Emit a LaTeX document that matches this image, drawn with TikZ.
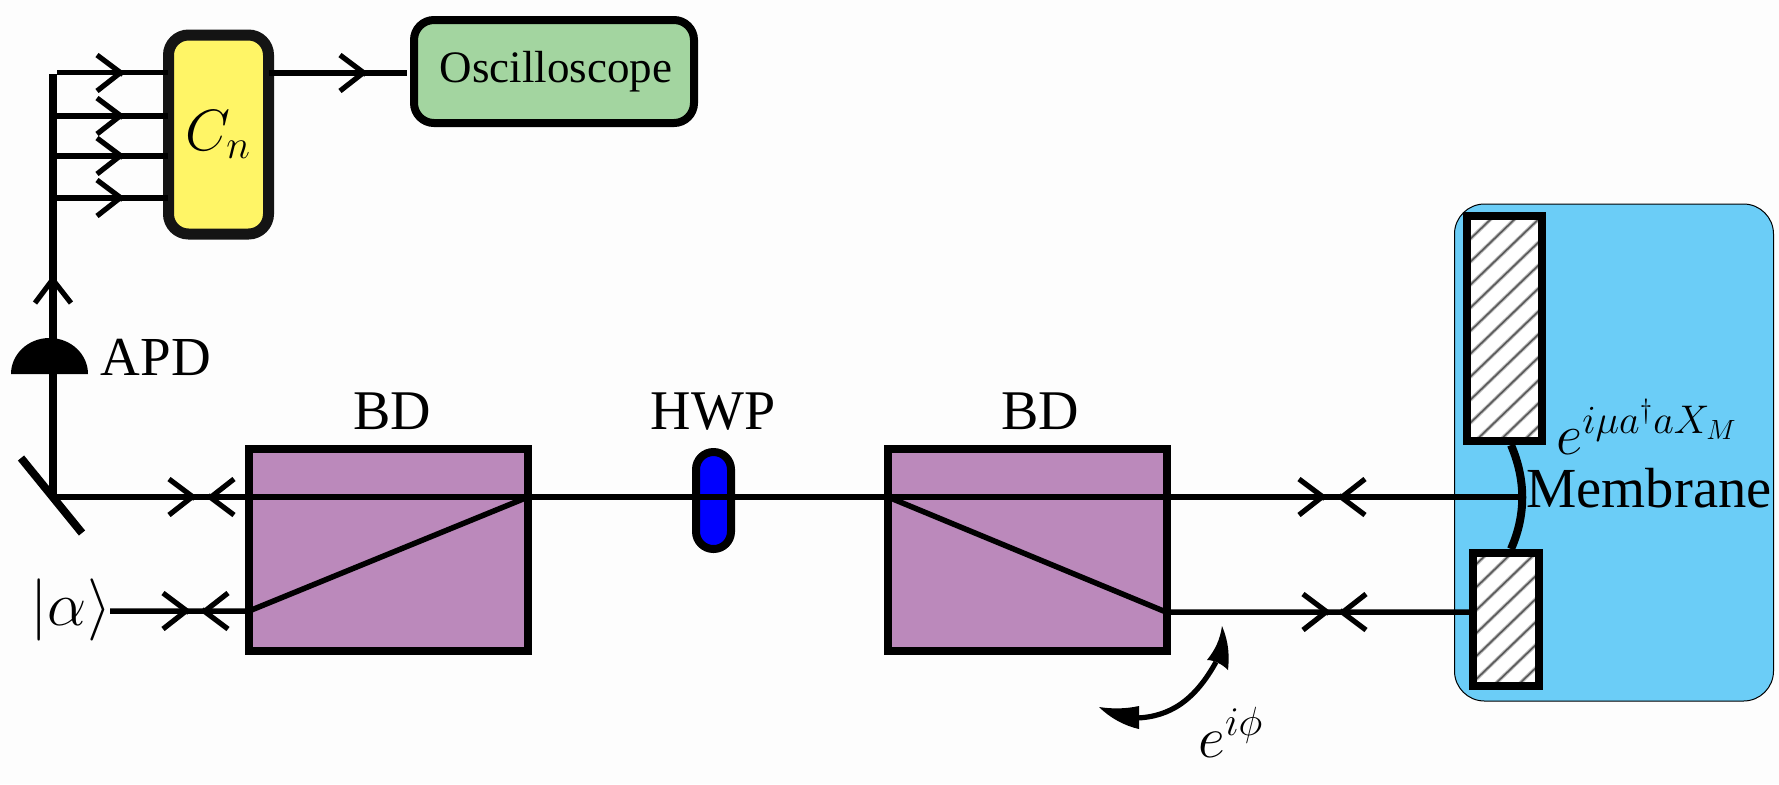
\documentclass[tikz,border=0pt]{standalone}
\usepackage{fontspec}
\setmainfont{Liberation Serif}
\definecolor{bgc}{HTML}{FDFDFD}
\definecolor{yellowc}{HTML}{FFF566}
\definecolor{greenc}{HTML}{A3D5A0}
\definecolor{purplec}{HTML}{BB89BB}
\definecolor{bluec}{HTML}{6BCDF7}
\definecolor{hwpc}{HTML}{0000FF}
\definecolor{edgec}{HTML}{141414}
\definecolor{hatchc}{HTML}{5A5A5A}
\definecolor{hatchs}{HTML}{BEBEBE}
\newcommand{\pxfont}[1]{\fontsize{#1}{#1}\selectfont}
\newcommand{\bigmath}[2]{\scalebox{#1}{\pxfont{26pt}$#2$}}
\tikzset{
  x=0.5pt,y=-0.5pt,
  boxbase/.style={draw=black,inner sep=0pt,outer sep=0pt,text=black},
  corrbox/.style={boxbase,draw=edgec,fill=yellowc,line width=5.5pt,rounded corners=10pt,minimum width=50pt,minimum height=99.5pt},
  scopebox/.style={boxbase,fill=greenc,line width=4pt,rounded corners=10pt,minimum width=140pt,minimum height=51.5pt},
  bdbox/.style={boxbase,fill=purplec,line width=4pt,minimum width=139.5pt,minimum height=101pt},
  hwpbox/.style={boxbase,fill=hwpc,line width=4pt,rounded corners=8.7pt,minimum width=17.5pt,minimum height=48.5pt},
  wallbox/.style={boxbase,fill=white,line width=4pt},
  beam/.style={line width=2.75pt,black},
  txt/.style={inner sep=0pt,outer sep=0pt,anchor=base,text=black},
  chevron/.pic={\draw[line width=2.6pt,black] (-26,-18) -- (0,1.5) (-26,18) -- (-3,0);},
}
\begin{document}
\begin{tikzpicture}
\useasboundingbox (0,0) rectangle (1779,784);
\fill[bgc] (0,0) rectangle (1779,784);

% membrane region
\node[boxbase,fill=bluec,line width=0.5pt,rounded corners=15pt,minimum width=159.5pt,minimum height=248.5pt] (region) at (1614,452.5) {};

% walls with hatching
\node[wallbox,minimum width=37.5pt,minimum height=112.5pt] (wallA) at (1504.5,328.5) {};
\begin{scope}
\clip (wallA.south west) rectangle (wallA.north east);
\foreach \c in {0,23,...,322}{
  \draw[hatchs,line width=1.8pt] (1440,222+\c) -- ++(130,-125);
  \draw[hatchc,line width=0.8pt] (1440,222+\c) -- ++(130,-125);
}
\end{scope}
\draw[line width=4pt,black] (wallA.south west) rectangle (wallA.north east);

\node[wallbox,minimum width=33pt,minimum height=66.5pt] (wallB) at (1506,619.5) {};
\begin{scope}
\clip (wallB.south west) rectangle (wallB.north east);
\foreach \c in {0,23,...,230}{
  \draw[hatchs,line width=1.8pt] (1440,553+\c) -- ++(130,-125);
  \draw[hatchc,line width=0.8pt] (1440,553+\c) -- ++(130,-125);
}
\end{scope}
\draw[line width=4pt,black] (wallB.south west) rectangle (wallB.north east);

% boxes
\node[corrbox] (corr) at (218.5,134.5) {\bigmath{1.17}{C_n}};
\node[scopebox] (scope) at (554,71.5) {\hspace*{2pt}\raisebox{-0.5pt}{\pxfont{22.5pt}Oscilloscope}};
\node[bdbox] (bdA) at (388.5,550) {};
\node[bdbox] (bdB) at (1027,550) {};
\node[hwpbox] (hwp) at (713.5,500.5) {};

% anchor points
\coordinate (corner) at (53,74);
\coordinate (fold) at (53,497);
\coordinate (t1) at (57,72.5);
\coordinate (t2) at (53,116);
\coordinate (t3) at (53,156);
\coordinate (t4) at (53,198);
\coordinate (c1) at (168,72.5);
\coordinate (c2) at (168,116);
\coordinate (c3) at (168,156);
\coordinate (c4) at (168,198);
\coordinate (cout) at (269,73);
\coordinate (sin) at (407,73);
\coordinate (aIn) at (249,611);
\coordinate (aOut) at (528,497);
\coordinate (bIn) at (888,497);
\coordinate (bOut) at (1166,612);
\coordinate (src) at (110,611);
\coordinate (memb) at (1519,497);
\coordinate (wallIn) at (1469,612);
\coordinate (mirA) at (21,458);
\coordinate (mirB) at (82,533);

% beams
\draw[line width=4pt,black] (fold) -- (corner);
\draw[beam] (t1) -- (c1);
\draw[beam] (t2) -- (c2);
\draw[beam] (t3) -- (c3);
\draw[beam] (t4) -- (c4);
\draw[beam] (cout) -- (sin);
\draw[line width=4pt,black] (mirA) -- (mirB);
\draw[beam] (fold) -- (memb);
\draw[beam] (src) -- (aIn) -- (aOut);
\draw[beam] (bIn) -- (bOut) -- (wallIn);

% detector dome
\fill[black] (11,374) arc[start angle=180,end angle=0,x radius=19.25pt,y radius=18pt] -- cycle;

% membrane
\draw[line width=4pt,black] (1511,445) .. controls (1526,480) and (1526,515) .. (1511,549);

% chevrons
\pic at (123,73) {chevron};
\pic at (123,116) {chevron};
\pic at (123,156) {chevron};
\pic at (123,198) {chevron};
\pic at (366,73) {chevron};
\pic[rotate=90] at (53,277) {chevron};
\pic at (195,497) {chevron};
\pic[rotate=180] at (208,497) {chevron};
\pic at (189,611) {chevron};
\pic[rotate=180] at (202,611) {chevron};
\pic at (1325,497) {chevron};
\pic[rotate=180] at (1339,497) {chevron};
\pic at (1329,612) {chevron};
\pic[rotate=180] at (1340,612) {chevron};

% phase arrow
\draw[line width=2.6pt,black] (1216,662) .. controls (1195,700) and (1170,717) .. (1136,718);
\fill[black] (1222,626) .. controls (1230,645) and (1229,660) .. (1228,670)
  .. controls (1222,664) and (1214,660) .. (1207,660)
  .. controls (1215,650) and (1220,640) .. (1222,626) -- cycle;
\fill[black] (1099,707) .. controls (1112,709) and (1125,709) .. (1139,706)
  -- (1139,729) .. controls (1125,726) and (1110,718) .. (1099,707) -- cycle;

% labels
\node[txt] (lAPD) at (156,375) {\pxfont{27.5pt}APD};
\node[txt] (lBDa) at (392,429) {\pxfont{28pt}BD};
\node[txt] (lHWP) at (713,429) {\pxfont{28pt}HWP};
\node[txt] (lBDb) at (1040,429) {\pxfont{28pt}BD};
\node[txt] (lAlpha) at (71,625.5) {\bigmath{1.25}{|\alpha\rangle}};
\node[txt] (lPhi) at (1231,757) {\bigmath{1.18}{e^{i\phi}}};
\node[txt] (lExp) at (1647,454) {\bigmath{1.157}{e^{i\mu a^\dagger a X_M}}};
\node[txt] (lMem) at (1649,507) {\pxfont{28.3pt}Membrane};
\end{tikzpicture}
\end{document}
